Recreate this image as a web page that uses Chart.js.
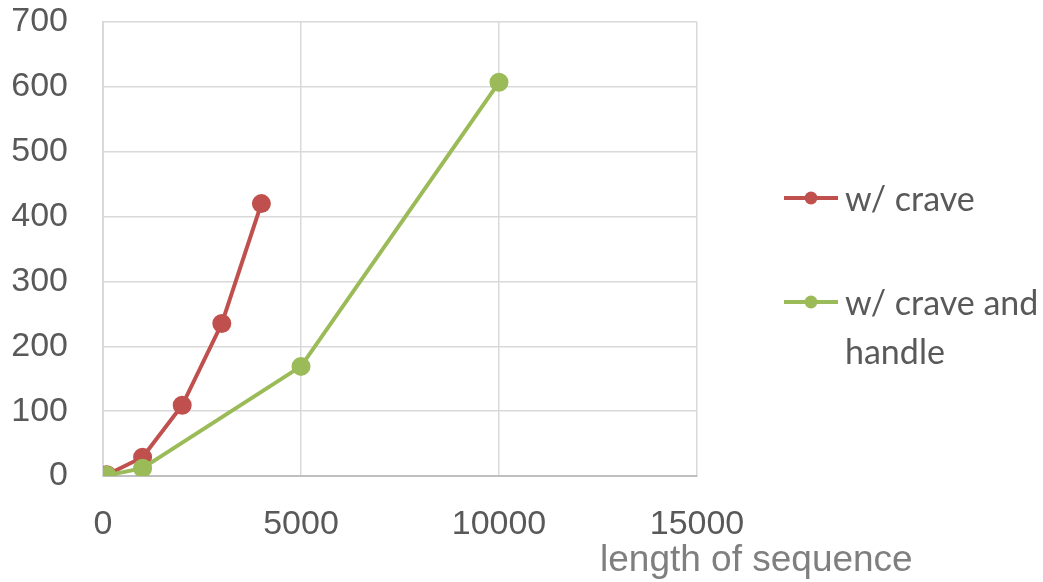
<!DOCTYPE html>
<html>
<head>
<meta charset="utf-8">
<script src="https://cdn.jsdelivr.net/npm/chart.js@4/dist/chart.umd.min.js"></script>
<style>
  html, body { margin: 0; padding: 0; background: #ffffff; }
  #wrap { width: 1043px; height: 582px; position: relative; }
</style>
</head>
<body>
<div id="wrap"><canvas id="c" width="1043" height="582"></canvas></div>
<script>
// Sequence length vs. time, two configurations
const seriesNames = ['w/ crave', 'w/ crave and handle'];
const craveLength = [100, 1000, 2000, 3000, 4000];
const craveValues = [2, 29, 109, 235, 420];
const handleLength = [100, 1000, 5000, 10000];
const handleValues = [1, 12, 169, 607];
const xTicks = [0, 5000, 10000, 15000];
const yTicks = [0, 100, 200, 300, 400, 500, 600, 700];
const xTitle = 'length of sequence';

const RED = '#c0504d';
const GREEN = '#9bbb59';
const TICK_FONT = { family: '"Liberation Sans", Arial, sans-serif', size: 34 };

const toPoints = (xs, ys) => xs.map((x, i) => ({ x: x, y: ys[i] }));

// Legend on the right with line + marker swatches and wrapped labels
const sideLegend = {
  id: 'sideLegend',
  afterDraw(chart) {
    const ctx = chart.ctx;
    const entries = [
      { ds: chart.data.datasets[1], lines: ['w/ crave'], y: 198 },
      { ds: chart.data.datasets[0], lines: ['w/ crave and', 'handle'], y: 302 }
    ];
    ctx.save();
    ctx.font = '34px Lato, "Open Sans", sans-serif';
    ctx.textBaseline = 'middle';
    ctx.textAlign = 'left';
    entries.forEach(e => {
      ctx.strokeStyle = e.ds.borderColor;
      ctx.lineWidth = 4;
      ctx.beginPath();
      ctx.moveTo(784, e.y);
      ctx.lineTo(838, e.y);
      ctx.stroke();
      ctx.fillStyle = e.ds.backgroundColor;
      ctx.beginPath();
      ctx.arc(811, e.y, 6.5, 0, Math.PI * 2);
      ctx.fill();
      ctx.fillStyle = '#595959';
      e.lines.forEach((t, i) => ctx.fillText(t, 845, e.y + 2 + i * 49));
    });
    ctx.restore();
  }
};

// Axis title placed below the x tick labels, offset to the right
const axisTitle = {
  id: 'axisTitle',
  afterDraw(chart) {
    const ctx = chart.ctx;
    ctx.save();
    ctx.font = '37px "Liberation Sans", Arial, sans-serif';
    ctx.fillStyle = '#7f7f7f';
    ctx.textBaseline = 'middle';
    ctx.textAlign = 'left';
    ctx.fillText(xTitle, 600, 561);
    ctx.restore();
  }
};

const plain = v => String(v);

new Chart(document.getElementById('c'), {
  type: 'scatter',
  data: {
    datasets: [
      {
        label: seriesNames[1],
        data: toPoints(handleLength, handleValues),
        showLine: true,
        borderColor: GREEN,
        backgroundColor: GREEN,
        borderWidth: 4,
        pointRadius: 7.5,
        pointHoverRadius: 7.5,
        order: 0
      },
      {
        label: seriesNames[0],
        data: toPoints(craveLength, craveValues),
        showLine: true,
        borderColor: RED,
        backgroundColor: RED,
        borderWidth: 4,
        pointRadius: 7.5,
        pointHoverRadius: 7.5,
        order: 1
      }
    ]
  },
  options: {
    responsive: false,
    animation: false,
    events: [],
    layout: { padding: { left: 0, right: 346, top: 22, bottom: 0 } },
    plugins: { legend: { display: false }, tooltip: { enabled: false } },
    scales: {
      x: {
        type: 'linear',
        min: 0,
        max: 15000,
        afterFit: s => {
          s.height = 106;
          s.paddingLeft = 0; s.paddingRight = 0;
        },
        afterBuildTicks: s => { s.ticks = xTicks.map(v => ({ value: v })); },
        ticks: { font: TICK_FONT, color: '#595959', padding: 28, maxRotation: 0, callback: plain },
        grid: { color: '#d9d9d9', lineWidth: 1.5, drawTicks: false },
        border: { display: true, color: '#bfbfbf', width: 2 }
      },
      y: {
        type: 'linear',
        min: 0,
        max: 700,
        afterFit: s => {
          s.width = 103;
          s.paddingTop = 0; s.paddingBottom = 0;
        },
        afterBuildTicks: s => { s.ticks = yTicks.map(v => ({ value: v })); },
        ticks: { font: TICK_FONT, color: '#595959', padding: 35, callback: plain },
        grid: { color: '#d9d9d9', lineWidth: 1.5, drawTicks: false },
        border: { display: true, color: '#d9d9d9', width: 2 }
      }
    }
  },
  plugins: [sideLegend, axisTitle]
});
</script>
</body>
</html>
